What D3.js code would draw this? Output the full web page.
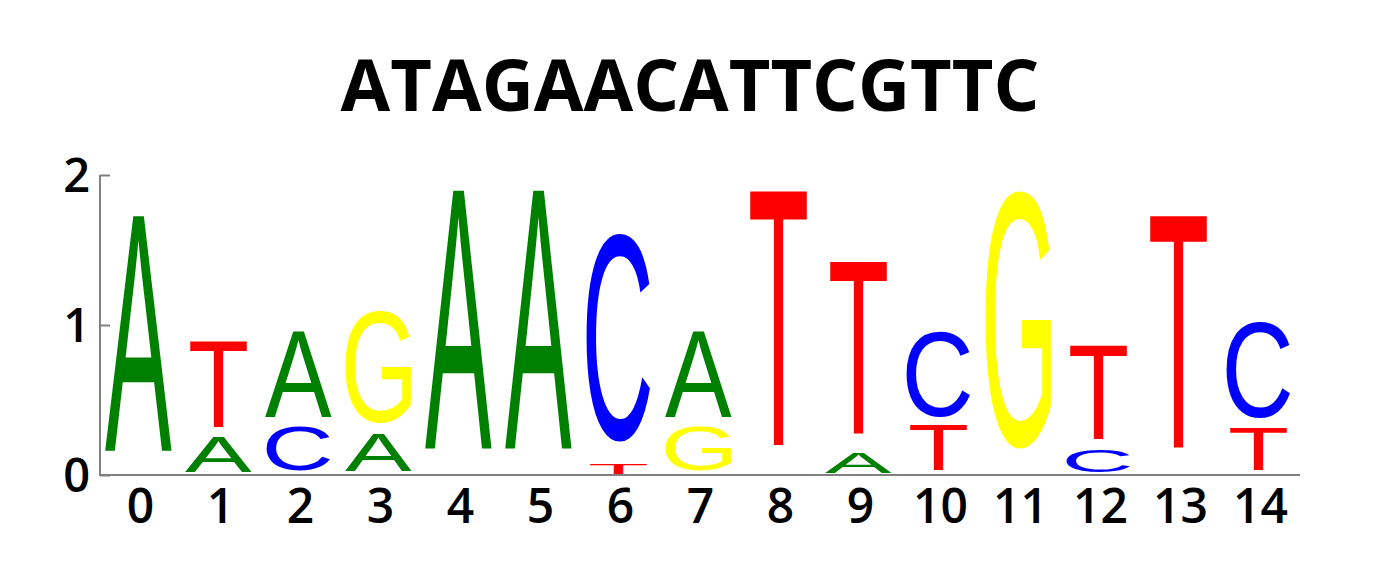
<!DOCTYPE html>
<html>
<head>
<meta charset="utf-8">
<script src="https://cdn.jsdelivr.net/npm/d3@7"></script>
<style>
  html, body { margin: 0; padding: 0; background: #fff; }
  svg { display: block; }
</style>
</head>
<body>
<svg id="chart" width="1400" height="575"></svg>
<script>
// ---- data (bits), letters listed bottom -> top for each position ----
const title = "ATAGAACATTCGTTC";
const positions = [0,1,2,3,4,5,6,7,8,9,10,11,12,13,14];
const stackLetters = [
  ["A"], ["A","T"], ["C","A"], ["A","G"], ["A"], ["A"], ["T","C"], ["G","A"],
  ["T"], ["A","T"], ["T","C"], ["G"], ["C","T"], ["T"], ["T","C"]
];
const stackHeights = [
  [1.73], [0.25,0.64], [0.33,0.63], [0.27,0.82], [1.90], [1.90], [0.08,1.53], [0.33,0.63],
  [1.895], [0.145,1.28], [0.33,0.63], [1.895], [0.167,0.695], [1.73], [0.31,0.705]
];
const yTicks = [0, 1, 2];
const letterColors = { A: "#008000", C: "#0000ff", G: "#ffff00", T: "#ff0000" };

// ---- layout ----
const svg = d3.select("#chart");
const x = d3.scaleLinear().domain([-0.5, 14.5]).range([100, 1300]);
const y = d3.scaleLinear().domain([0, 2]).range([475, 175]);
const glyphFont = "Liberation Sans, Arial, sans-serif";
const labelFont = "'Open Sans', sans-serif";
const bottomPad = 0.093;      // fraction of each letter box left empty at its bottom
const emUnits = 1.25;         // horizontal em size in position units

// measure ink boxes of letters
const cnv = document.createElement("canvas").getContext("2d");
cnv.font = "100px " + glyphFont;
const ink = {};
["A","C","G","T"].forEach(L => {
  const m = cnv.measureText(L);
  ink[L] = {
    left: -m.actualBoundingBoxLeft, right: m.actualBoundingBoxRight,
    asc: m.actualBoundingBoxAscent, desc: m.actualBoundingBoxDescent
  };
});

// title
svg.append("text")
  .attr("x", 690).attr("y", 111)
  .attr("text-anchor", "middle")
  .style("font-family", labelFont).style("font-weight", 700)
  .style("font-size", "72px").attr("fill", "#000")
  .text(title);

// letters
const g = svg.append("g");
const sx = (x(emUnits) - x(0)) / 100;
positions.forEach((p, i) => {
  let base = 0;
  stackLetters[i].forEach((L, j) => {
    const h = stackHeights[i][j];
    const top = y(base + h);
    const bot = y(base + bottomPad * h);
    const k = ink[L];
    const sy = (bot - top) / (k.asc + k.desc);
    const cx = x(p) - 1.5;
    g.append("text")
      .attr("transform", `translate(${cx},${top}) scale(${sx},${sy}) translate(${-(k.left + k.right) / 2},${k.asc})`)
      .style("font-family", glyphFont).style("font-size", "100px")
      .attr("fill", letterColors[L])
      .text(L);
    base += h;
  });
});

// axes
const axisColor = "#808080";
svg.append("line").attr("x1", x(-0.5)).attr("x2", x(14.5)).attr("y1", y(0)).attr("y2", y(0))
  .attr("stroke", axisColor).attr("stroke-width", 2);
svg.append("line").attr("x1", x(-0.5)).attr("x2", x(-0.5)).attr("y1", y(0)+1).attr("y2", y(2))
  .attr("stroke", axisColor).attr("stroke-width", 2);

const yAxis = d3.axisRight(y).tickValues(yTicks).tickSize(10).tickFormat("");
const ya = svg.append("g").attr("transform", `translate(${x(-0.5)},0)`).call(yAxis);
ya.select(".domain").remove();
ya.selectAll("line").attr("stroke", axisColor).attr("stroke-width", 2);

svg.append("g").selectAll("text").data(yTicks).join("text")
  .attr("x", 90).attr("y", d => y(d)).attr("dy", "0.36em")
  .attr("text-anchor", "end")
  .style("font-family", labelFont).style("font-weight", 600).style("font-size", "47px")
  .text(d => d);

const xAxis = d3.axisBottom(x).tickValues(positions).tickSize(0).tickPadding(0).tickFormat(d => d);
const xa = svg.append("g").attr("transform", `translate(0,${y(0)})`).call(xAxis);
xa.select(".domain").remove();
xa.selectAll("text")
  .attr("y", 48).attr("dy", 0)
  .style("font-family", labelFont).style("font-weight", 600).style("font-size", "48px")
  .attr("fill", "#000");
</script>
</body>
</html>
